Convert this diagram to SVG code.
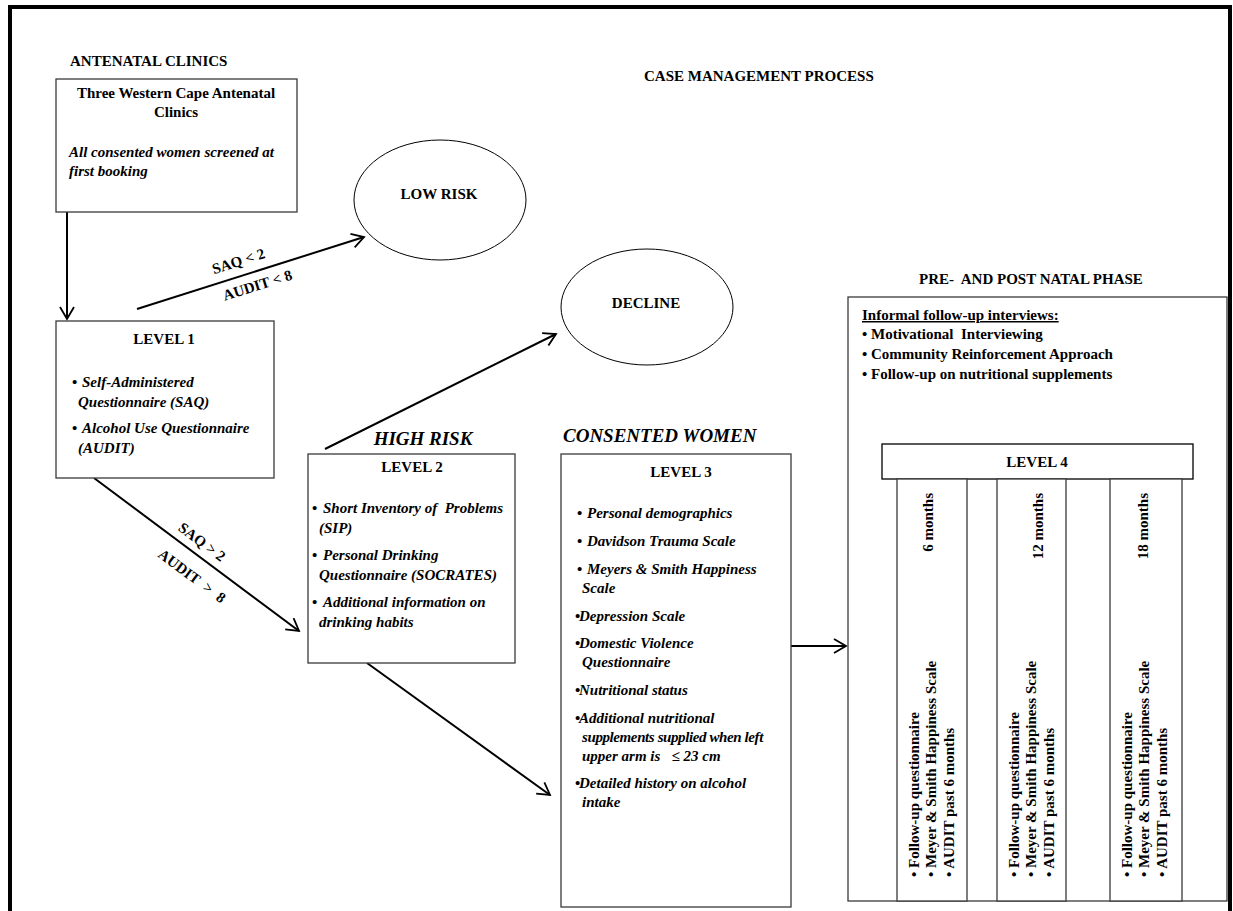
<svg xmlns="http://www.w3.org/2000/svg" width="1233" height="911" viewBox="0 0 1233 911">
<style>
text{font-family:"Liberation Serif","Times New Roman",serif;font-weight:bold;font-size:15px;fill:#000}
.i{font-style:italic}
.h{font-size:19px;font-style:italic}
.c{text-anchor:middle}
.box{fill:#fff;stroke:#3a3a3a;stroke-width:1.3}
.ell{fill:#fff;stroke:#000;stroke-width:1}
.conn{stroke:#000;stroke-width:2;fill:none}
</style>
<defs>
<marker id="arr" markerUnits="userSpaceOnUse" markerWidth="16" markerHeight="16" viewBox="-13 -8 16 16" refX="0" refY="0" orient="auto">
<path d="M-12,-7 L0,0 L-12,7" fill="none" stroke="#000" stroke-width="1.8"/>
</marker>
</defs>
<rect x="0" y="0" width="1233" height="911" fill="#fff"/>
<rect id="frame" x="10" y="7" width="1220" height="930" fill="none" stroke="#000" stroke-width="4"/>
<text x="644" y="81">CASE MANAGEMENT PROCESS</text>
<text x="70" y="66">ANTENATAL CLINICS</text>

<g id="connectors">
<line class="conn" x1="67" y1="212" x2="67" y2="319" stroke-width="1.6" marker-end="url(#arr)"/>
<line class="conn" x1="137" y1="309" x2="364" y2="237" marker-end="url(#arr)"/>
<line class="conn" x1="94" y1="478" x2="299" y2="631" marker-end="url(#arr)"/>
<line class="conn" x1="325" y1="449" x2="556" y2="334" marker-end="url(#arr)"/>
<line class="conn" x1="367" y1="663" x2="550" y2="795" marker-end="url(#arr)"/>
<line class="conn" x1="791" y1="646" x2="846" y2="646" marker-end="url(#arr)"/>
<text transform="translate(240,266) rotate(-17.5)" class="c">SAQ &lt; 2</text>
<text transform="translate(259,290) rotate(-17.5)" class="c">AUDIT &lt; 8</text>
<text transform="translate(199,546) rotate(36.5)" class="c">SAQ &gt; 2</text>
<text transform="translate(189,580) rotate(36.5)" class="c" style="word-spacing:4px">AUDIT &gt; 8</text>
</g>

<g id="antenatal">
<rect class="box" x="56" y="79" width="241" height="133"/>
<text x="176" y="98" class="c">Three Western Cape Antenatal</text>
<text x="176" y="117" class="c">Clinics</text>
<text x="69" y="157" class="i">All consented women screened at</text>
<text x="69" y="176" class="i">first booking</text>
</g>

<g id="lowrisk">
<ellipse class="ell" cx="440" cy="200" rx="86" ry="60"/>
<text x="439" y="199" class="c">LOW RISK</text>
</g>

<g id="decline">
<ellipse class="ell" cx="647" cy="307" rx="86" ry="58"/>
<text x="646" y="308" class="c">DECLINE</text>
</g>

<g id="level1">
<rect class="box" x="56" y="321" width="218" height="157"/>
<text x="164" y="344" class="c">LEVEL 1</text>
<text x="72" y="387">•</text><text x="82" y="387" class="i">Self-Administered</text>
<text x="78" y="407" class="i">Questionnaire (SAQ)</text>
<text x="72" y="433">•</text><text x="82" y="433" class="i">Alcohol Use Questionnaire</text>
<text x="78" y="453" class="i">(AUDIT)</text>
</g>

<g id="level2">
<text x="423" y="445" class="h c">HIGH RISK</text>
<rect class="box" x="308" y="454" width="207" height="209"/>
<text x="412" y="472" class="c">LEVEL 2</text>
<text x="312" y="513">•</text><text x="323" y="513" class="i">Short Inventory of&#160; Problems</text>
<text x="319" y="533" class="i">(SIP)</text>
<text x="312" y="560">•</text><text x="323" y="560" class="i">Personal Drinking</text>
<text x="319" y="580" class="i">Questionnaire (SOCRATES)</text>
<text x="312" y="607">•</text><text x="323" y="607" class="i">Additional information on</text>
<text x="319" y="627" class="i">drinking habits</text>
</g>

<g id="level3">
<text x="563" y="442" class="h">CONSENTED WOMEN</text>
<rect class="box" x="561" y="454" width="230" height="453"/>
<text x="681" y="477" class="c">LEVEL 3</text>
<text x="577" y="518">•</text><text x="587" y="518" class="i">Personal demographics</text>
<text x="577" y="546">•</text><text x="587" y="546" class="i">Davidson Trauma Scale</text>
<text x="577" y="574">•</text><text x="587" y="574" class="i">Meyers &amp; Smith Happiness</text>
<text x="582" y="593" class="i">Scale</text>
<text x="575" y="621">•</text><text x="579" y="621" class="i">Depression Scale</text>
<text x="575" y="648">•</text><text x="579" y="648" class="i">Domestic Violence</text>
<text x="582" y="667" class="i">Questionnaire</text>
<text x="575" y="695">•</text><text x="579" y="695" class="i">Nutritional status</text>
<text x="575" y="723">•</text><text x="579" y="723" class="i">Additional nutritional</text>
<text x="582" y="742" class="i" style="letter-spacing:-0.4px">supplements supplied when left</text>
<text x="582" y="761" class="i">upper arm is&#160;&#160; ≤ 23 cm</text>
<text x="575" y="788">•</text><text x="579" y="788" class="i">Detailed history on alcohol</text>
<text x="582" y="807" class="i">intake</text>
</g>

<g id="phase">
<text x="1031" y="284" class="c">PRE-&#160; AND POST NATAL PHASE</text>
<rect class="box" x="848" y="297" width="379" height="604"/>
<text x="862" y="320" text-decoration="underline">Informal follow-up interviews:</text>
<text x="862" y="339">• Motivational&#160; Interviewing</text>
<text x="862" y="359">• Community Reinforcement Approach</text>
<text x="862" y="379">• Follow-up on nutritional supplements</text>
</g>

<g id="level4">
<rect x="882" y="444" width="311" height="35" fill="#fff" stroke="#000" stroke-width="1.3"/>
<text x="1037" y="467" class="c">LEVEL 4</text>
</g>

<g id="month6">
<rect class="box" x="897" y="479" width="70" height="422"/>
<text transform="translate(933,493) rotate(-90)" text-anchor="end">6 months</text>
<text transform="translate(919,877) rotate(-90)">• Follow-up questionnaire</text>
<text transform="translate(936,877) rotate(-90)">• Meyer &amp; Smith Happiness Scale</text>
<text transform="translate(954,877) rotate(-90)">• AUDIT past 6 months</text>
</g>

<g id="month12">
<rect class="box" x="997" y="479" width="69" height="422"/>
<text transform="translate(1043,493) rotate(-90)" text-anchor="end">12 months</text>
<text transform="translate(1019,877) rotate(-90)">• Follow-up questionnaire</text>
<text transform="translate(1036,877) rotate(-90)">• Meyer &amp; Smith Happiness Scale</text>
<text transform="translate(1054,877) rotate(-90)">• AUDIT past 6 months</text>
</g>

<g id="month18">
<rect class="box" x="1110" y="479" width="72" height="422"/>
<text transform="translate(1148,493) rotate(-90)" text-anchor="end">18 months</text>
<text transform="translate(1132,877) rotate(-90)">• Follow-up questionnaire</text>
<text transform="translate(1149,877) rotate(-90)">• Meyer &amp; Smith Happiness Scale</text>
<text transform="translate(1167,877) rotate(-90)">• AUDIT past 6 months</text>
</g>
</svg>
